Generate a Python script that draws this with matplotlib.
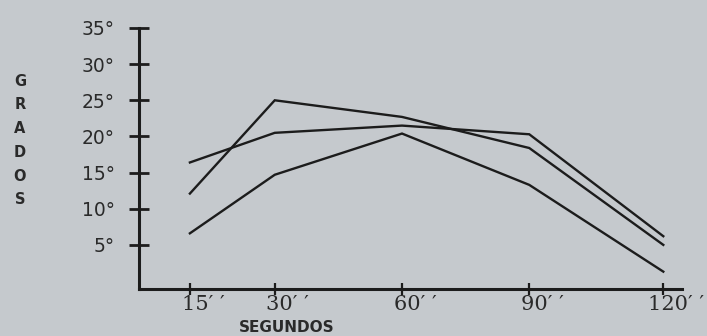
import matplotlib
matplotlib.use("Agg")
import matplotlib.pyplot as plt
import matplotlib.transforms as mtransforms

# Data
categories = ["15′ ′", "30′ ′", "60′ ′", "90′ ′", "120′ ′"]
cat_pos = [0, 1, 2.5, 4, 5.58]          # uneven spacing as drawn in the original
serie_a = [12.1, 25.0, 22.7, 18.4, 5.0]
serie_b = [16.4, 20.5, 21.5, 20.3, 6.2]
serie_c = [6.6, 14.7, 20.4, 13.3, 1.3]
y_ticks = [5, 10, 15, 20, 25, 30, 35]
y_labels = ["5°", "10°", "15°", "20°", "25°", "30°", "35°"]

bg = "#c5c9cd"
ink = "#1c1c1c"
txt = "#2a2a2a"

fig = plt.figure(figsize=(7.07, 3.36), dpi=100, facecolor=bg)
ax = fig.add_axes([0.1966, 0.1399, 0.768, 0.7768])
ax.set_facecolor(bg)

for s in (serie_a, serie_b, serie_c):
    ax.plot(cat_pos, s, color=ink, lw=1.7, solid_joinstyle="miter")

ax.set_xlim(-0.6, 5.8)
ax.set_ylim(-1.1, 35)

for side in ("top", "right"):
    ax.spines[side].set_visible(False)
ax.spines["left"].set_color(ink)
ax.spines["bottom"].set_color(ink)
ax.spines["left"].set_linewidth(2.2)
ax.spines["bottom"].set_linewidth(2.2)

ax.set_yticks(y_ticks)
ax.set_yticklabels(y_labels, fontsize=13.5, family="DejaVu Sans", color=txt)
ax.tick_params(axis="y", direction="inout", length=15, width=2, color=ink, pad=10)

ax.set_xticks(cat_pos)
ax.set_xticklabels(categories, fontsize=15, family="DejaVu Serif", color=txt)
ax.tick_params(axis="x", direction="inout", length=9, width=1.6, color=ink, pad=0)
offset = mtransforms.ScaledTranslation(13 / 100, 0, fig.dpi_scale_trans)
for lab in ax.get_xticklabels():
    lab.set_transform(lab.get_transform() + offset)

fig.text(287 / 707, 1 - 327 / 336, "SEGUNDOS", ha="center", va="center",
         fontsize=11, family="DejaVu Sans", fontweight="bold", color=txt)
for i, ch in enumerate("GRADOS"):
    fig.text(20 / 707, 1 - (81 + i * 23.8) / 336, ch, ha="center", va="center",
             fontsize=10.5, family="DejaVu Sans", fontweight="bold", color=txt)

fig.savefig("out.png", dpi=100, facecolor=bg)
